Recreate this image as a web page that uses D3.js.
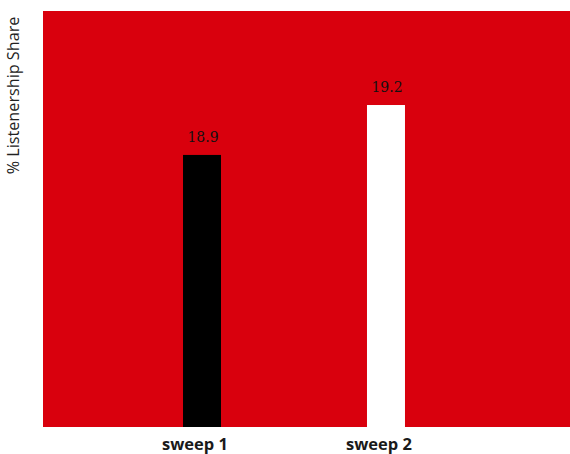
<!DOCTYPE html>
<html>
<head>
<meta charset="utf-8">
<script src="https://cdn.jsdelivr.net/npm/d3@7"></script>
<style>
  html, body { margin: 0; padding: 0; background: #fff; }
  svg { display: block; }
</style>
</head>
<body>
<svg id="chart" width="570" height="454"></svg>
<script>
// Listenership share by sweep
const categories = ["sweep 1", "sweep 2"];
const shareValues = [18.9, 19.2];
const barColors = ["#000000", "#ffffff"];
const yDomain = [17.265, 19.765];

const width = 570, height = 454;
const plot = { left: 43, right: 570, top: 11, bottom: 427 };

const svg = d3.select("#chart");

const x = d3.scaleBand()
  .domain(categories)
  .range([plot.left, plot.right])
  .paddingInner(0.7935)
  .paddingOuter(0.829)
  .align(0.459);

const y = d3.scaleLinear()
  .domain(yDomain)
  .range([plot.bottom, plot.top]);

// plot background
svg.append("rect")
  .attr("x", plot.left)
  .attr("y", plot.top)
  .attr("width", plot.right - plot.left)
  .attr("height", plot.bottom - plot.top)
  .attr("fill", "#d9000d");

const data = categories.map((c, i) => ({ cat: c, value: shareValues[i], color: barColors[i] }));

svg.append("g").selectAll("rect")
  .data(data)
  .join("rect")
  .attr("x", d => x(d.cat))
  .attr("y", d => y(d.value))
  .attr("width", x.bandwidth())
  .attr("height", d => plot.bottom - y(d.value))
  .attr("fill", d => d.color);

// value labels
svg.append("g").selectAll("text")
  .data(data)
  .join("text")
  .attr("x", d => x(d.cat) + x.bandwidth() / 2 + 1)
  .attr("y", d => y(d.value) - 13)
  .attr("text-anchor", "middle")
  .attr("font-family", "DejaVu Serif, serif")
  .attr("font-size", 14)
  .attr("fill", "#111")
  .text(d => d.value.toFixed(1));

// category axis
const xAxis = d3.axisBottom(x).tickSize(0).tickPadding(0);
const gx = svg.append("g")
  .attr("transform", `translate(-7,${plot.bottom})`)
  .call(xAxis);
gx.select(".domain").remove();
gx.selectAll("text")
  .attr("dy", null)
  .attr("y", 23)
  .attr("font-family", "Open Sans, sans-serif")
  .attr("font-size", 16.5)
  .attr("font-weight", "bold")
  .attr("fill", "#1a1a1a");

// y axis title
svg.append("text")
  .attr("transform", `translate(19,95.5) rotate(-90)`)
  .attr("text-anchor", "middle")
  .attr("font-family", "Open Sans, sans-serif")
  .attr("font-size", 16.2)
  .attr("fill", "#222")
  .text("% Listenership Share");
</script>
</body>
</html>
